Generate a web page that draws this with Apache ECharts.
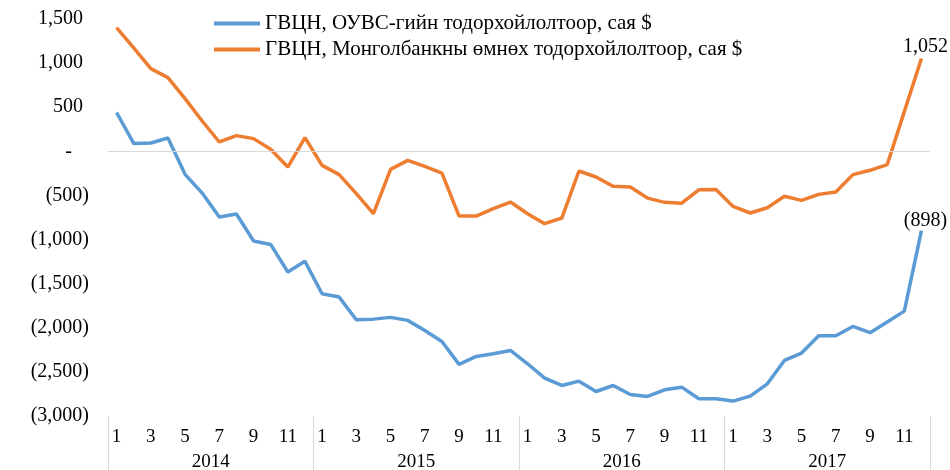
<!DOCTYPE html>
<html>
<head>
<meta charset="utf-8">
<script src="https://cdn.jsdelivr.net/npm/echarts@6/dist/echarts.min.js"></script>
<style>
  html, body { margin: 0; padding: 0; background: #fff; }
  #chart { width: 950px; height: 470px; }
</style>
</head>
<body>
<div id="chart"></div>
<script>
const years = ['2014', '2015', '2016', '2017']
const monthNums = ['1', '2', '3', '4', '5', '6', '7', '8', '9', '10', '11', '12']

const imfName = 'ГВЦН, ОУВС-гийн тодорхойлолтоор, сая $'
const bomName = 'ГВЦН, Монголбанкны өмнөх тодорхойлолтоор, сая $'

// ОУВС-гийн тодорхойлолт
const imfValues = [
  440, 90, 94, 151, -261, -473, -745, -711, -1017, -1055, -1368, -1247,
  -1614, -1652, -1909, -1902, -1882, -1916, -2030, -2155, -2415, -2325, -2294, -2257,
  -2408, -2570, -2654, -2605, -2722, -2654, -2756, -2778, -2703, -2673, -2805, -2805,
  -2831, -2775, -2635, -2370, -2287, -2090, -2090, -1985, -2056, -1935, -1811, -898
]

// Монголбанкны өмнөх тодорхойлолт
const bomValues = [
  1403, 1172, 938, 836, 597, 344, 106, 178, 144, 23, -178, 155,
  -159, -264, -480, -707, -204, -102, -170, -246, -734, -734, -650, -575,
  -707, -820, -756, -223, -291, -397, -405, -530, -578, -588, -436, -434,
  -624, -699, -639, -510, -556, -488, -461, -264, -215, -151, 450, 1052
]

const categories = []
years.forEach(y => monthNums.forEach(m => categories.push(y + '-' + m)))

const font = 'Liberation Serif, Times New Roman, serif'

function fmt(v) {
  if (v === 0) return '-'
  const s = Math.abs(Math.round(v)).toLocaleString('en-US')
  return v < 0 ? '(' + s + ')' : s
}

// only the last point gets a value label
function lastLabel(p) {
  return p.dataIndex === categories.length - 1 ? fmt(p.value) : ''
}

const chart = echarts.init(document.getElementById('chart'))

chart.setOption({
  animation: false,
  textStyle: { fontFamily: font, color: '#000' },
  legend: {
    orient: 'vertical',
    left: 209,
    top: 8,
    icon: 'rect',
    itemWidth: 46,
    itemHeight: 4,
    itemGap: 5,
    textStyle: { fontFamily: font, fontSize: 21, color: '#000' },
    data: [imfName, bomName]
  },
  grid: {
    left: 108,
    right: 20,
    top: 19,
    bottom: 54,
    outerBoundsMode: 'none'
  },
  xAxis: [
    {
      type: 'category',
      data: categories,
      axisLine: { show: false },
      axisTick: { show: false },
      axisLabel: {
        interval: 1,
        margin: 12,
        fontFamily: font,
        fontSize: 19,
        color: '#000',
        formatter: v => v.split('-')[1]
      }
    },
    {
      type: 'category',
      data: years,
      position: 'bottom',
      axisLine: { show: false },
      axisTick: { show: true, length: 54, lineStyle: { color: '#d9d9d9' } },
      axisLabel: {
        margin: 37,
        fontFamily: font,
        fontSize: 19,
        color: '#000'
      }
    }
  ],
  yAxis: {
    type: 'value',
    min: -3000,
    max: 1500,
    interval: 500,
    axisLine: { show: false },
    axisTick: { show: false },
    splitLine: { show: false },
    axisLabel: {
      margin: 19,
      formatter: v => {
        if (v === 0) return '{z|-}'
        if (v > 0) return '{p|' + fmt(v) + '}'
        return '{n|' + fmt(v) + '}'
      },
      rich: {
        p: { fontFamily: font, fontSize: 20, color: '#000', padding: [0, 6, 0, 0] },
        n: { fontFamily: font, fontSize: 20, color: '#000' },
        z: { fontFamily: font, fontSize: 20, color: '#000', padding: [0, 17, 0, 0] }
      }
    }
  },
  series: [
    {
      name: imfName,
      type: 'line',
      data: imfValues,
      symbol: 'circle',
      symbolSize: 0,
      showSymbol: true,
      lineStyle: { color: '#5b9bd5', width: 3.5 },
      itemStyle: { color: '#5b9bd5' },
      label: {
        show: true,
        position: 'top',
        distance: 0,
        offset: [4, 0],
        fontFamily: font,
        fontSize: 20,
        color: '#000',
        formatter: lastLabel
      }
    },
    {
      name: bomName,
      type: 'line',
      data: bomValues,
      symbol: 'circle',
      symbolSize: 0,
      showSymbol: true,
      lineStyle: { color: '#ed7d31', width: 3.5 },
      itemStyle: { color: '#ed7d31' },
      label: {
        show: true,
        position: 'top',
        distance: 2,
        offset: [4, 0],
        fontFamily: font,
        fontSize: 20,
        color: '#000',
        formatter: lastLabel
      },
      markLine: {
        silent: true,
        symbol: 'none',
        label: { show: false },
        lineStyle: { color: '#d9d9d9', width: 1, type: 'solid' },
        data: [{ yAxis: 0 }]
      }
    }
  ]
})
</script>
</body>
</html>
